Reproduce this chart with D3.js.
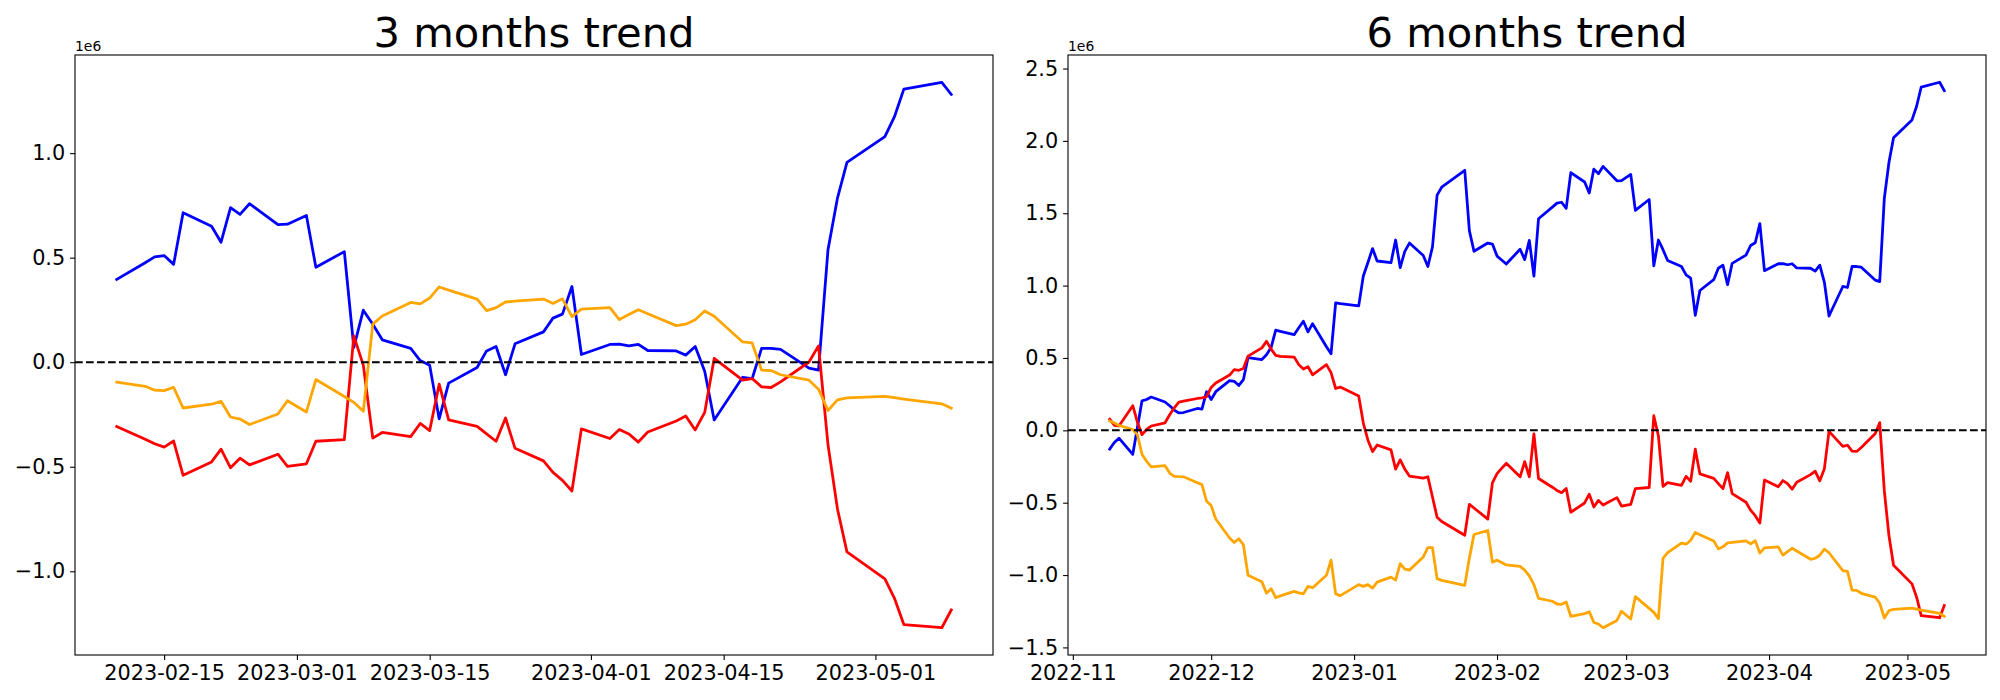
<!DOCTYPE html>
<html><head><meta charset="utf-8">
<script src="https://cdn.jsdelivr.net/npm/d3@7"></script>
<style>
body{margin:0;background:#fff}
svg{display:block}
text{font-family:"DejaVu Sans",sans-serif}
</style>
</head><body>
<svg id="c" width="2000" height="700"></svg>
<script>
// ---------- 3 months panel (values in units of 1e6) ----------
const leftTitle = "3 months trend";
const leftDates = [
"2023-02-10","2023-02-13","2023-02-14","2023-02-15","2023-02-16","2023-02-17","2023-02-20","2023-02-21","2023-02-22","2023-02-23","2023-02-24","2023-02-27","2023-02-28",
"2023-03-02","2023-03-03","2023-03-06","2023-03-07","2023-03-08","2023-03-09","2023-03-10","2023-03-13","2023-03-14","2023-03-15","2023-03-16","2023-03-17","2023-03-20","2023-03-21","2023-03-22","2023-03-23","2023-03-24","2023-03-27","2023-03-28","2023-03-29","2023-03-30","2023-03-31",
"2023-04-03","2023-04-04","2023-04-05","2023-04-06","2023-04-07","2023-04-10","2023-04-11","2023-04-12","2023-04-13","2023-04-14","2023-04-17","2023-04-18","2023-04-19","2023-04-20","2023-04-21","2023-04-24","2023-04-25","2023-04-26","2023-04-27","2023-04-28",
"2023-05-02","2023-05-03","2023-05-04","2023-05-08","2023-05-09"];
const leftBlue = [
0.396,0.476,0.504,0.510,0.468,0.715,0.650,0.574,0.739,0.707,0.758,0.658,0.660,
0.702,0.454,0.529,0.071,0.249,0.182,0.107,0.066,0.008,-0.014,-0.271,-0.100,-0.025,0.054,0.075,-0.060,0.088,0.145,0.211,0.230,0.362,0.037,
0.085,0.086,0.078,0.085,0.056,0.054,0.034,0.075,-0.043,-0.276,-0.072,-0.079,0.066,0.066,0.061,-0.028,-0.038,0.538,0.785,0.956,
1.079,1.173,1.306,1.339,1.281];
const leftRed = [
-0.308,-0.368,-0.390,-0.406,-0.377,-0.541,-0.477,-0.416,-0.505,-0.459,-0.491,-0.440,-0.498,
-0.486,-0.378,-0.370,0.126,-0.014,-0.363,-0.336,-0.356,-0.293,-0.327,-0.105,-0.276,-0.307,-0.343,-0.378,-0.267,-0.412,-0.472,-0.527,-0.565,-0.616,-0.319,
-0.365,-0.322,-0.343,-0.382,-0.334,-0.281,-0.257,-0.324,-0.240,0.018,-0.086,-0.078,-0.118,-0.121,-0.094,0.001,0.078,-0.394,-0.702,-0.907,
-1.036,-1.128,-1.255,-1.270,-1.185];
const leftOrange = [
-0.095,-0.115,-0.134,-0.136,-0.120,-0.219,-0.201,-0.187,-0.262,-0.272,-0.298,-0.248,-0.184,
-0.238,-0.083,-0.164,-0.192,-0.235,0.182,0.221,0.286,0.279,0.307,0.360,0.345,0.302,0.247,0.261,0.288,0.292,0.302,0.281,0.303,0.218,0.254,
0.261,0.204,0.228,0.251,0.232,0.175,0.182,0.203,0.245,0.220,0.097,0.092,-0.038,-0.040,-0.060,-0.086,-0.129,-0.231,-0.180,-0.171,
-0.163,-0.169,-0.176,-0.199,-0.220];
const leftXTicks = ["2023-02-15","2023-03-01","2023-03-15","2023-04-01","2023-04-15","2023-05-01"];
const leftYTicks = [-1.0,-0.5,0.0,0.5,1.0];

// ---------- 6 months panel (values in units of 1e6) ----------
const rightTitle = "6 months trend";
const rightDates = [
"2022-11-09","2022-11-10","2022-11-11","2022-11-14","2022-11-15","2022-11-16","2022-11-17","2022-11-18","2022-11-21","2022-11-22","2022-11-23","2022-11-24","2022-11-25","2022-11-28","2022-11-29","2022-11-30",
"2022-12-01","2022-12-02","2022-12-05","2022-12-06","2022-12-07","2022-12-08","2022-12-09","2022-12-12","2022-12-13","2022-12-14","2022-12-15","2022-12-16","2022-12-19","2022-12-20","2022-12-21","2022-12-22","2022-12-23","2022-12-26","2022-12-27","2022-12-28","2022-12-29",
"2023-01-02","2023-01-03","2023-01-04","2023-01-05","2023-01-06","2023-01-09","2023-01-10","2023-01-11","2023-01-12","2023-01-13","2023-01-16","2023-01-17","2023-01-18","2023-01-19","2023-01-20","2023-01-25","2023-01-26","2023-01-27","2023-01-30","2023-01-31",
"2023-02-01","2023-02-02","2023-02-03","2023-02-06","2023-02-07","2023-02-08","2023-02-09","2023-02-10","2023-02-13","2023-02-14","2023-02-15","2023-02-16","2023-02-17","2023-02-20","2023-02-21","2023-02-22","2023-02-23","2023-02-24","2023-02-27","2023-02-28",
"2023-03-02","2023-03-03","2023-03-06","2023-03-07","2023-03-08","2023-03-09","2023-03-10","2023-03-13","2023-03-14","2023-03-15","2023-03-16","2023-03-17","2023-03-20","2023-03-21","2023-03-22","2023-03-23","2023-03-24","2023-03-27","2023-03-28","2023-03-29","2023-03-30","2023-03-31",
"2023-04-03","2023-04-04","2023-04-05","2023-04-06","2023-04-07","2023-04-10","2023-04-11","2023-04-12","2023-04-13","2023-04-14","2023-04-17","2023-04-18","2023-04-19","2023-04-20","2023-04-21","2023-04-24","2023-04-25","2023-04-26","2023-04-27","2023-04-28",
"2023-05-02","2023-05-03","2023-05-04","2023-05-08","2023-05-09"];
const rightBlue = [
-0.130,-0.084,-0.054,-0.166,0.019,0.204,0.213,0.230,0.196,0.170,0.140,0.120,0.123,0.151,0.146,0.267,
0.213,0.267,0.344,0.339,0.310,0.351,0.503,0.489,0.522,0.572,0.692,0.684,0.661,0.709,0.754,0.680,0.737,0.578,0.529,0.880,0.875,
0.860,1.066,1.160,1.256,1.170,1.158,1.315,1.125,1.237,1.294,1.208,1.132,1.268,1.625,1.680,1.797,1.380,1.237,1.294,1.287,
1.204,1.177,1.149,1.251,1.180,1.313,1.066,1.462,1.542,1.570,1.576,1.534,1.781,1.716,1.640,1.805,1.773,1.824,1.724,1.726,
1.768,1.520,1.595,1.137,1.315,1.248,1.173,1.132,1.074,1.052,0.795,0.966,1.041,1.120,1.141,1.006,1.154,1.211,1.277,1.296,1.428,1.103,
1.151,1.152,1.144,1.151,1.122,1.120,1.100,1.141,1.023,0.790,0.994,0.987,1.132,1.132,1.127,1.038,1.028,1.604,1.851,2.022,
2.145,2.239,2.372,2.405,2.347];
const rightRed = [
0.077,0.035,0.030,0.170,0.056,-0.030,0.006,0.030,0.052,0.108,0.155,0.195,0.201,0.220,0.224,0.232,
0.296,0.327,0.382,0.420,0.415,0.427,0.513,0.570,0.615,0.561,0.518,0.511,0.506,0.454,0.423,0.439,0.384,0.454,0.399,0.289,0.299,
0.237,0.050,-0.068,-0.147,-0.101,-0.135,-0.268,-0.204,-0.268,-0.316,-0.330,-0.321,-0.461,-0.601,-0.630,-0.725,-0.511,-0.537,-0.613,-0.363,
-0.299,-0.263,-0.228,-0.321,-0.216,-0.321,-0.025,-0.333,-0.393,-0.415,-0.431,-0.402,-0.566,-0.502,-0.441,-0.530,-0.484,-0.516,-0.465,-0.523,
-0.511,-0.403,-0.395,0.101,-0.039,-0.388,-0.361,-0.381,-0.318,-0.352,-0.130,-0.301,-0.332,-0.368,-0.403,-0.292,-0.437,-0.497,-0.552,-0.590,-0.641,-0.344,
-0.390,-0.347,-0.368,-0.407,-0.359,-0.306,-0.282,-0.349,-0.265,-0.007,-0.111,-0.103,-0.143,-0.146,-0.119,-0.024,0.053,-0.419,-0.727,-0.932,
-1.061,-1.153,-1.280,-1.295,-1.210];
const rightOrange = [
0.065,0.051,0.034,0.006,-0.030,-0.165,-0.215,-0.252,-0.244,-0.295,-0.318,-0.320,-0.321,-0.362,-0.375,-0.490,
-0.520,-0.613,-0.744,-0.775,-0.749,-0.792,-1.002,-1.047,-1.125,-1.094,-1.156,-1.144,-1.113,-1.123,-1.130,-1.078,-1.088,-1.002,-0.897,-1.130,-1.142,
-1.066,-1.078,-1.066,-1.090,-1.049,-1.014,-1.035,-0.921,-0.959,-0.966,-0.875,-0.811,-0.811,-1.025,-1.037,-1.071,-0.883,-0.720,-0.692,-0.911,
-0.897,-0.913,-0.930,-0.940,-0.966,-1.006,-1.066,-1.161,-1.181,-1.200,-1.202,-1.186,-1.285,-1.267,-1.253,-1.328,-1.338,-1.364,-1.314,-1.250,
-1.304,-1.149,-1.230,-1.258,-1.301,-0.884,-0.845,-0.780,-0.787,-0.759,-0.706,-0.721,-0.764,-0.819,-0.805,-0.778,-0.774,-0.764,-0.785,-0.763,-0.848,-0.812,
-0.805,-0.862,-0.838,-0.815,-0.834,-0.891,-0.884,-0.863,-0.821,-0.846,-0.969,-0.974,-1.104,-1.106,-1.126,-1.152,-1.195,-1.297,-1.246,-1.237,
-1.229,-1.235,-1.242,-1.265,-1.286];
const rightXTicks = ["2022-11-01","2022-12-01","2023-01-01","2023-02-01","2023-03-01","2023-04-01","2023-05-01"];
const rightYTicks = [-1.5,-1.0,-0.5,0.0,0.5,1.0,1.5,2.0,2.5];

const seriesColors = ["blue","red","orange"];
const offsetLabel = "1e6";

// ---------- drawing ----------
const parse = d3.utcParse("%Y-%m-%d");
const svg = d3.select("#c");
const TOP = 55, BOTTOM = 655;
const TICK = 4.9, PAD = 4.9, FS = 20.8;

const panels = [
  {title:leftTitle, dates:leftDates, series:[leftBlue,leftRed,leftOrange], xTicks:leftXTicks, xFmt:"%Y-%m-%d", yTicks:leftYTicks, x0:75, x1:993},
  {title:rightTitle, dates:rightDates, series:[rightBlue,rightRed,rightOrange], xTicks:rightXTicks, xFmt:"%Y-%m", yTicks:rightYTicks, x0:1068, x1:1986}
];

panels.forEach(p => {
  const dates = p.dates.map(parse);
  const [dmin, dmax] = d3.extent(dates);
  const span = dmax - dmin;
  const x = d3.scaleUtc()
    .domain([new Date(+dmin - span*0.05), new Date(+dmax + span*0.05)])
    .range([p.x0, p.x1]);
  const all = [].concat(...p.series);
  const [vmin, vmax] = d3.extent(all);
  const vs = vmax - vmin;
  const y = d3.scaleLinear().domain([vmin - vs*0.05, vmax + vs*0.05]).range([BOTTOM, TOP]);

  const g = svg.append("g");

  const line = d3.line().x((d,i) => x(dates[i])).y(d => y(d));
  p.series.forEach((vals, k) => {
    g.append("path").datum(vals)
      .attr("d", line)
      .attr("fill","none")
      .attr("stroke", seriesColors[k])
      .attr("stroke-width", 2.78)
      .attr("stroke-linejoin","round")
      .attr("stroke-linecap","square");
  });

  // zero reference line
  g.append("line")
    .attr("x1", p.x0).attr("x2", p.x1)
    .attr("y1", y(0)).attr("y2", y(0))
    .attr("stroke","black").attr("stroke-width",2.08)
    .attr("stroke-dasharray","7.7,3.3");

  // frame
  g.append("rect")
    .attr("x", p.x0).attr("y", TOP)
    .attr("width", p.x1 - p.x0).attr("height", BOTTOM - TOP)
    .attr("fill","none").attr("stroke","black").attr("stroke-width",1.1);

  // x axis
  const xa = g.append("g").attr("transform", `translate(0,${BOTTOM})`)
    .call(d3.axisBottom(x).tickValues(p.xTicks.map(parse))
      .tickFormat(d3.utcFormat(p.xFmt)).tickSize(TICK).tickPadding(PAD).tickSizeOuter(0));
  xa.select(".domain").remove();
  // y axis
  const ya = g.append("g").attr("transform", `translate(${p.x0},0)`)
    .call(d3.axisLeft(y).tickValues(p.yTicks)
      .tickFormat(d3.format(".1f")).tickSize(TICK).tickPadding(PAD).tickSizeOuter(0));
  ya.select(".domain").remove();
  [xa, ya].forEach(a => {
    a.attr("font-family", null).attr("font-size", null);
    a.selectAll(".tick line").attr("stroke","black").attr("stroke-width",1.1);
    a.selectAll(".tick text").attr("fill","black")
      .style("font-size", FS + "px").style("font-family","DejaVu Sans, sans-serif");
  });

  // offset text
  g.append("text").attr("x", p.x0).attr("y", 51)
    .style("font-size","13.9px").attr("fill","black").text(offsetLabel);

  // title
  g.append("text").attr("x", (p.x0 + p.x1)/2).attr("y", 47)
    .attr("text-anchor","middle").style("font-size","41.7px").attr("fill","black")
    .text(p.title);
});
</script>
</body></html>
